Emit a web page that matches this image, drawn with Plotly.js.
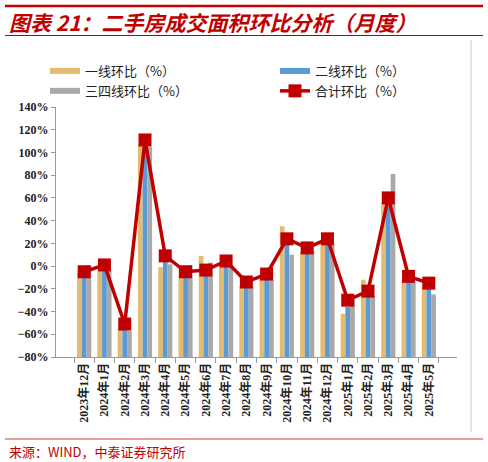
<!DOCTYPE html>
<html>
<head>
<meta charset="utf-8">
<script src="https://cdn.plot.ly/plotly-3.0.1.min.js"></script>
<style>
  html, body { margin: 0; padding: 0; background: #fff; }
  #chart { width: 488px; height: 462px; }
</style>
</head>
<body>
<div id="chart"></div>
<script>
// months on the x axis
const months = [
  "2023年12月", "2024年1月", "2024年2月", "2024年3月", "2024年4月", "2024年5月",
  "2024年6月", "2024年7月", "2024年8月", "2024年9月", "2024年10月", "2024年11月",
  "2024年12月", "2025年1月", "2025年2月", "2025年3月", "2025年4月", "2025年5月"
];
// month-on-month change, %
const tier1 = [-6, -4, -55, 107, -1, -3, 9, 1, -18, -11, 35, 13, 20, -42, -12, 56, -12, -18];
const tier2 = [-8, 0, -52, 101, 4, -6, -6, 3, -17, -10, 20, 11, 24, -36, -25, 52, -14, -20];
const tier34 = [1, -4, -57, 105, 1.5, 1, 3, -1, -18, -12, 10, 13, 19, -27, -26, 81, -14, -25];
const total = [-5, 1, -51, 111, 9, -5, -3.5, 4.5, -14, -7, 24, 16, 24, -30, -22, 60, -9, -15];

const names = ["一线环比（%）", "二线环比（%）", "三四线环比（%）", "合计环比（%）"];
const colors = ["#E3BC72", "#5B9BD5", "#A9A9A9", "#C00000"];
// left legend column / right legend column
const legendOf = ["legend", "legend2", "legend", "legend2"];

// the category axis crosses at -80%, so bars grow up from there
const floor = -80;

const W = 488, H = 462;
const M = { l: 56, r: 31, t: 107, b: 105 };
const PW = W - M.l - M.r, PH = H - M.t - M.b;
const px = (x) => (x - M.l) / PW;
const py = (y) => (H - M.b - y) / PH;

function barTrace(vals, i) {
  return {
    type: "bar", x: months, y: vals.map((v) => v - floor), base: floor,
    marker: { color: colors[i] }, name: names[i],
    showlegend: false, hoverinfo: "skip"
  };
}
// flat swatches for the bar legend entries
function swatch(i) {
  return {
    type: "scatter", mode: "lines", x: [months[0]], y: [null], name: names[i],
    legend: legendOf[i], line: { color: colors[i], width: 6 }
  };
}

const traces = [
  barTrace(tier1, 0), barTrace(tier2, 1), barTrace(tier34, 2),
  swatch(0), swatch(1), swatch(2),
  {
    type: "scatter", mode: "lines+markers", x: months, y: total, name: names[3],
    legend: legendOf[3],
    line: { color: colors[3], width: 3.5 },
    marker: { symbol: "square", size: 13, color: colors[3] }
  }
];

const cjk = "Noto Sans CJK SC";
const serif = "Liberation Serif, " + cjk;

function legendBox(left) {
  return {
    orientation: "v", x: px(left), y: py(56), xanchor: "left", yanchor: "top",
    traceorder: "normal", bgcolor: "rgba(0,0,0,0)", tracegroupgap: 0,
    font: { family: cjk, size: 13, color: "#222" }
  };
}

const layout = {
  width: W, height: H, margin: M,
  paper_bgcolor: "#fff", plot_bgcolor: "#fff",
  barmode: "group", bargap: 0.3, bargroupgap: 0,
  showlegend: true,
  legend: legendBox(45),
  legend2: legendBox(275),
  xaxis: {
    type: "category", tickangle: -90, tickson: "boundaries",
    ticks: "outside", ticklen: 5, tickcolor: "#9a9a9a",
    showline: true, linecolor: "#9a9a9a", linewidth: 1,
    showgrid: false, zeroline: false,
    tickfont: { family: serif, size: 12, color: "#222", weight: "bold" }
  },
  yaxis: {
    range: [-80, 140], dtick: 20, ticksuffix: "%",
    ticks: "outside", ticklen: 4, tickcolor: "#9a9a9a",
    showline: true, linecolor: "#9a9a9a", linewidth: 1,
    showgrid: false, zeroline: false,
    tickfont: { family: "Liberation Serif", size: 12, color: "#222", weight: "bold" }
  },
  shapes: [
    { type: "line", xref: "paper", yref: "paper", x0: px(5), x1: px(483), y0: py(6), y1: py(6), line: { color: "#C00000", width: 2.5 } },
    { type: "line", xref: "paper", yref: "paper", x0: px(5), x1: px(483), y0: py(35.5), y1: py(35.5), line: { color: "#C00000", width: 1 } },
    { type: "line", xref: "paper", yref: "paper", x0: px(5), x1: px(483), y0: py(439), y1: py(439), line: { color: "#D04040", width: 1.2 } },
    { type: "line", xref: "paper", yref: "paper", x0: px(471), x1: px(471), y0: py(40), y1: py(432), line: { color: "#c8c8c8", width: 1 } }
  ],
  annotations: [
    {
      xref: "paper", yref: "paper", x: px(7), y: py(22), xanchor: "left", yanchor: "middle",
      text: "<b><i>图表 21：二手房成交面积环比分析（月度）</i></b>", showarrow: false,
      font: { family: cjk, size: 21, color: "#C00000" }
    },
    {
      xref: "paper", yref: "paper", x: px(7), y: py(451), xanchor: "left", yanchor: "middle",
      text: "来源：WIND，中泰证券研究所", showarrow: false,
      font: { family: cjk, size: 13, color: "#C00000" }
    }
  ]
};

Plotly.newPlot("chart", traces, layout, { displayModeBar: false, staticPlot: true });
</script>
</body>
</html>
